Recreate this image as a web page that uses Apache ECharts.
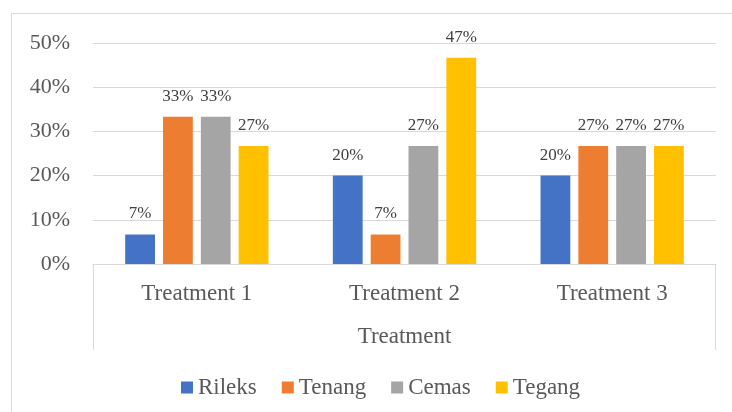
<!DOCTYPE html>
<html>
<head>
<meta charset="utf-8">
<script src="https://cdn.jsdelivr.net/npm/echarts@6/dist/echarts.min.js"></script>
<style>html,body{margin:0;padding:0;background:#fff}#c{width:732px;height:412px}</style>
</head>
<body>
<div id="c"></div>
<script>
var categories = ['Treatment 1', 'Treatment 2', 'Treatment 3'];
var seriesNames = ['Rileks', 'Tenang', 'Cemas', 'Tegang'];
var rileks = [6.67, 20.0, 20.0];
var tenang = [33.33, 6.67, 26.67];
var cemas = [33.33, 26.67, 26.67];
var tegang = [26.67, 46.67, 26.67];
var yTicks = [0, 10, 20, 30, 40, 50];
var colors = ['#4472C4', '#ED7D31', '#A5A5A5', '#FFC000'];
var FONT = "'Liberation Serif', 'Times New Roman', serif";

var chart = echarts.init(document.getElementById('c'));
var G = {left: 93, right: 16, top: 43, bottom: 148};
var values = [rileks, tenang, cemas, tegang];
var series = seriesNames.map(function (n, i) {
  return {
    name: n, type: 'bar', data: values[i],
    barGap: '27%', barCategoryGap: '31%',
    itemStyle: {color: colors[i]},
    label: {show: true, position: 'top', distance: 12, color: '#404040',
      fontFamily: FONT, fontSize: 17,
      formatter: function (p) { return Math.round(p.value) + '%'; }}
  };
});
chart.setOption({
  animation: false,
  textStyle: {fontFamily: FONT},
  grid: G,
  legend: {
    data: seriesNames, left: 176, top: 371, itemWidth: 12, itemHeight: 12, itemGap: 25,
    icon: 'rect',
    textStyle: {fontFamily: FONT, fontSize: 23, color: '#595959'}
  },
  xAxis: {
    type: 'category', data: categories,
    name: 'Treatment', nameLocation: 'middle', nameGap: 61,
    nameTextStyle: {fontFamily: FONT, fontSize: 23, color: '#595959'},
    axisLine: {lineStyle: {color: '#d9d9d9', width: 1}},
    axisTick: {show: false},
    axisLabel: {fontFamily: FONT, fontSize: 23, color: '#595959', margin: 18}
  },
  yAxis: {
    type: 'value', min: yTicks[0], max: yTicks[yTicks.length - 1], interval: 10,
    axisLine: {show: false}, axisTick: {show: false},
    axisLabel: {fontFamily: FONT, fontSize: 22, color: '#595959', margin: 23,
      formatter: '{value}%'},
    splitLine: {lineStyle: {color: '#d9d9d9', width: 1}}
  },
  series: series
});
var W = 732, H = 412;
var x0 = G.left, x1 = W - G.right, yb = H - G.bottom;
chart.setOption({
  graphic: [
    {type: 'rect', shape: {x: 11.5, y: 13.5, width: 740, height: 440}, style: {fill: 'none', stroke: '#d9d9d9', lineWidth: 1}, silent: true},
    {type: 'line', shape: {x1: x0 + 0.5, y1: yb, x2: x0 + 0.5, y2: yb + 86}, style: {stroke: '#d9d9d9', lineWidth: 1}},
    {type: 'line', shape: {x1: x1 - 0.5, y1: yb, x2: x1 - 0.5, y2: yb + 86}, style: {stroke: '#d9d9d9', lineWidth: 1}}
  ]
});
</script>
</body>
</html>
